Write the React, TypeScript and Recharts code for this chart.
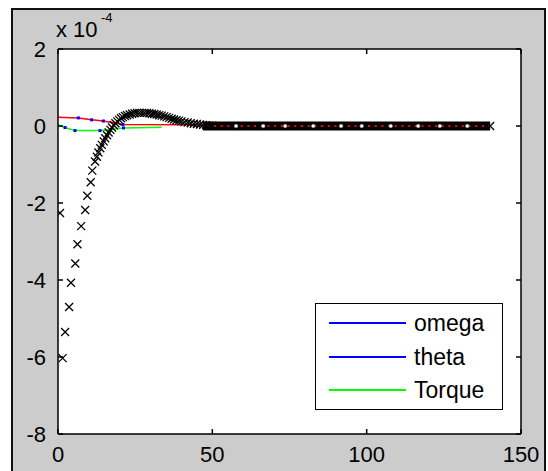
import React from "react";
import { ComposedChart, Line, Scatter, XAxis, YAxis, CartesianGrid, Legend } from "recharts";

// values are in units of 1e-4
const respT = [0.65, 1.5, 2.3, 3.6, 4.2, 5.6, 6.3, 7.5, 8.8, 9.5, 10.6, 11.1, 12.0, 12.6, 13.1, 13.7, 14.2, 14.8, 15.3, 15.9, 16.4, 17.0, 17.5, 18.1, 18.6, 19.2, 19.8, 20.4, 21.0, 21.7, 22.4, 23.2, 24.0, 24.8, 25.6, 26.4, 27.2, 28.0, 28.8, 29.6, 30.4, 31.2, 32.0, 32.8, 33.6, 34.4, 35.2, 36.0, 36.8, 37.6, 38.4, 39.2, 40.0, 41.0, 42.0, 43.0, 44.0, 45.0, 46.0, 47.0, 48.0, 49.0, 50.0, 140];
const respV = [-2.26, -6.03, -5.35, -4.7, -4.07, -3.57, -3.07, -2.6, -2.18, -1.81, -1.46, -1.16, -0.92, -0.8, -0.69, -0.58, -0.49, -0.4, -0.32, -0.24, -0.17, -0.1, -0.04, 0.02, 0.07, 0.12, 0.16, 0.2, 0.23, 0.26, 0.28, 0.3, 0.32, 0.33, 0.34, 0.34, 0.34, 0.34, 0.34, 0.33, 0.32, 0.31, 0.3, 0.28, 0.27, 0.25, 0.23, 0.21, 0.19, 0.17, 0.15, 0.14, 0.12, 0.1, 0.09, 0.07, 0.06, 0.05, 0.04, 0.03, 0.02, 0.01, 0.01, 0];

// settled part of the marker series (drawn as a dense band)
const bandT = [47, 140];
const bandV = [0, 0];
const spotT = [57.7, 66.5, 73.6, 82.7, 91.7, 98.4, 107.8, 116.7, 123.7, 132.6];

const redT = [0, 6.6, 10.9, 14.7, 21, 140];
const redV = [0.23, 0.21, 0.16, 0.13, 0.04, 0.01];
const dashT = [44, 140];
const dashV = [0, 0];

const greenT = [0, 2.3, 5.5, 13.6, 21.2, 33.6];
const greenV = [0.03, -0.04, -0.12, -0.12, -0.05, -0.03];

const xTicks = [0, 50, 100, 150];
const yTicks = [-8, -6, -4, -2, 0, 2];

const legendNames = ["omega", "theta", "Torque"];
const legendColors = ["#0000ff", "#0000ff", "#00ff00"];

const pts = (ts: number[], vs: number[]) => ts.map((t, i) => ({ t, v: vs[i] }));

const font = "'Liberation Sans', Arial, sans-serif";

const XMark = (p: any) => {
  const { cx, cy } = p;
  const s = 4;
  return (
    <path
      d={`M${cx - s},${cy - s}L${cx + s},${cy + s}M${cx - s},${cy + s}L${cx + s},${cy - s}`}
      stroke="#000"
      strokeWidth={1.3}
      fill="none"
    />
  );
};

const Spot = (p: any) => <circle cx={p.cx} cy={p.cy} r={1.8} fill="#fff" stroke="#999" strokeWidth={0.6} />;

const blueDot = (n: number) => (p: any) =>
  p.index === 0 || p.index === n - 1 ? (
    <g key={p.index} />
  ) : (
    <rect key={p.index} x={p.cx - 1.5} y={p.cy - 1.5} width={3} height={3} fill="#0000ff" />
  );

const BottomTick = (p: any) => (
  <g>
    <line x1={p.x} y1={p.y} x2={p.x} y2={p.y - 5} stroke="#000" strokeWidth={1.5} />
    <text x={p.x} y={p.y + 28} textAnchor="middle" fontFamily={font} fontSize={22} fill="#000">
      {p.payload.value}
    </text>
  </g>
);
const TopTick = (p: any) => <line x1={p.x} y1={p.y} x2={p.x} y2={p.y + 5} stroke="#000" strokeWidth={1.5} />;
const LeftTick = (p: any) => (
  <g>
    <line x1={p.x} y1={p.y} x2={p.x + 5} y2={p.y} stroke="#000" strokeWidth={1.5} />
    <text x={p.x - 12} y={p.y + 8} textAnchor="end" fontFamily={font} fontSize={22} fill="#000">
      {p.payload.value}
    </text>
  </g>
);
const RightTick = (p: any) => <line x1={p.x} y1={p.y} x2={p.x - 5} y2={p.y} stroke="#000" strokeWidth={1.5} />;

const LegendBox = () => (
  <div style={{ width: 188, height: 107, background: "#fff", border: "1px solid #000", boxSizing: "border-box", position: "relative" }}>
    {legendNames.map((name, i) => (
      <div key={name} style={{ position: "absolute", left: 0, top: 19 + i * 33.5 - 14, height: 28, width: 188 }}>
        <div style={{ position: "absolute", left: 13, top: 13, width: 77, height: 2, background: legendColors[i] }} />
        <span style={{ position: "absolute", left: 98, top: 0, fontFamily: font, fontSize: 23, lineHeight: "28px", color: "#000" }}>
          {name}
        </span>
      </div>
    ))}
  </div>
);

const axisLine = { stroke: "#000", strokeWidth: 1.5 };

export default function App() {
  return (
    <div style={{ position: "absolute", left: 0, top: 0, width: 548, height: 471, background: "#fff", overflow: "hidden" }}>
      <div
        style={{
          position: "absolute",
          left: 11,
          top: 8,
          width: 535,
          height: 480,
          background: "#cccccc",
          border: "2px solid #111",
          boxSizing: "border-box",
        }}
      />
      <div style={{ position: "absolute", left: 0, top: 0 }}>
        <ComposedChart width={548} height={471} margin={{ top: 48, right: 26, bottom: 36, left: 57 }}>
          <CartesianGrid fill="#fff" horizontal={false} vertical={false} />
          <XAxis dataKey="t" type="number" domain={[0, 150]} ticks={xTicks} allowDataOverflow height={1}
            tickSize={0} tickMargin={0} tickLine={false} axisLine={axisLine} tick={BottomTick} interval={0} />
          <XAxis xAxisId="top" orientation="top" dataKey="t" type="number" domain={[0, 150]} ticks={xTicks} allowDataOverflow height={1}
            tickSize={0} tickMargin={0} tickLine={false} axisLine={axisLine} tick={TopTick} interval={0} />
          <YAxis type="number" domain={[-8, 2]} ticks={yTicks} allowDataOverflow width={1}
            tickSize={0} tickMargin={0} tickLine={false} axisLine={axisLine} tick={LeftTick} interval={0} />
          <YAxis yAxisId="right" orientation="right" type="number" domain={[-8, 2]} ticks={yTicks} allowDataOverflow width={1}
            tickSize={0} tickMargin={0} tickLine={false} axisLine={axisLine} tick={RightTick} interval={0} />
          <Line data={pts(redT, redV)} dataKey="v" stroke="#ff0000" strokeWidth={1.5} dot={blueDot(redT.length)}
            activeDot={false} isAnimationActive={false} legendType="none" />
          <Line data={pts(greenT, greenV)} dataKey="v" stroke="#00ff00" strokeWidth={1.5} dot={blueDot(greenT.length)}
            activeDot={false} isAnimationActive={false} legendType="none" />
          <Line data={pts(bandT, bandV)} dataKey="v" stroke="#000" strokeWidth={9} dot={false}
            activeDot={false} isAnimationActive={false} legendType="none" />
          <Line data={pts(dashT, dashV)} dataKey="v" stroke="#ff0000" strokeWidth={2} strokeDasharray="2 4.7" dot={false}
            activeDot={false} isAnimationActive={false} legendType="none" />
          <Scatter data={pts(respT, respV)} dataKey="v" shape={XMark} isAnimationActive={false} legendType="none" />
          <Scatter data={spotT.map((t) => ({ t, v: 0 }))} dataKey="v" shape={Spot} isAnimationActive={false} legendType="none" />
          <Legend layout="vertical" align="center" verticalAlign="middle" content={LegendBox}
            wrapperStyle={{ left: 315, top: 303, width: 188, height: 107 }} />
        </ComposedChart>
      </div>
      <svg width={548} height={471} style={{ position: "absolute", left: 0, top: 0, pointerEvents: "none" }}>
        <text x={56} y={37} fontFamily={font} fontSize={22} fill="#000">x 10</text>
        <text x={101} y={22} fontFamily={font} fontSize={13} fill="#000">-4</text>
      </svg>
    </div>
  );
}
